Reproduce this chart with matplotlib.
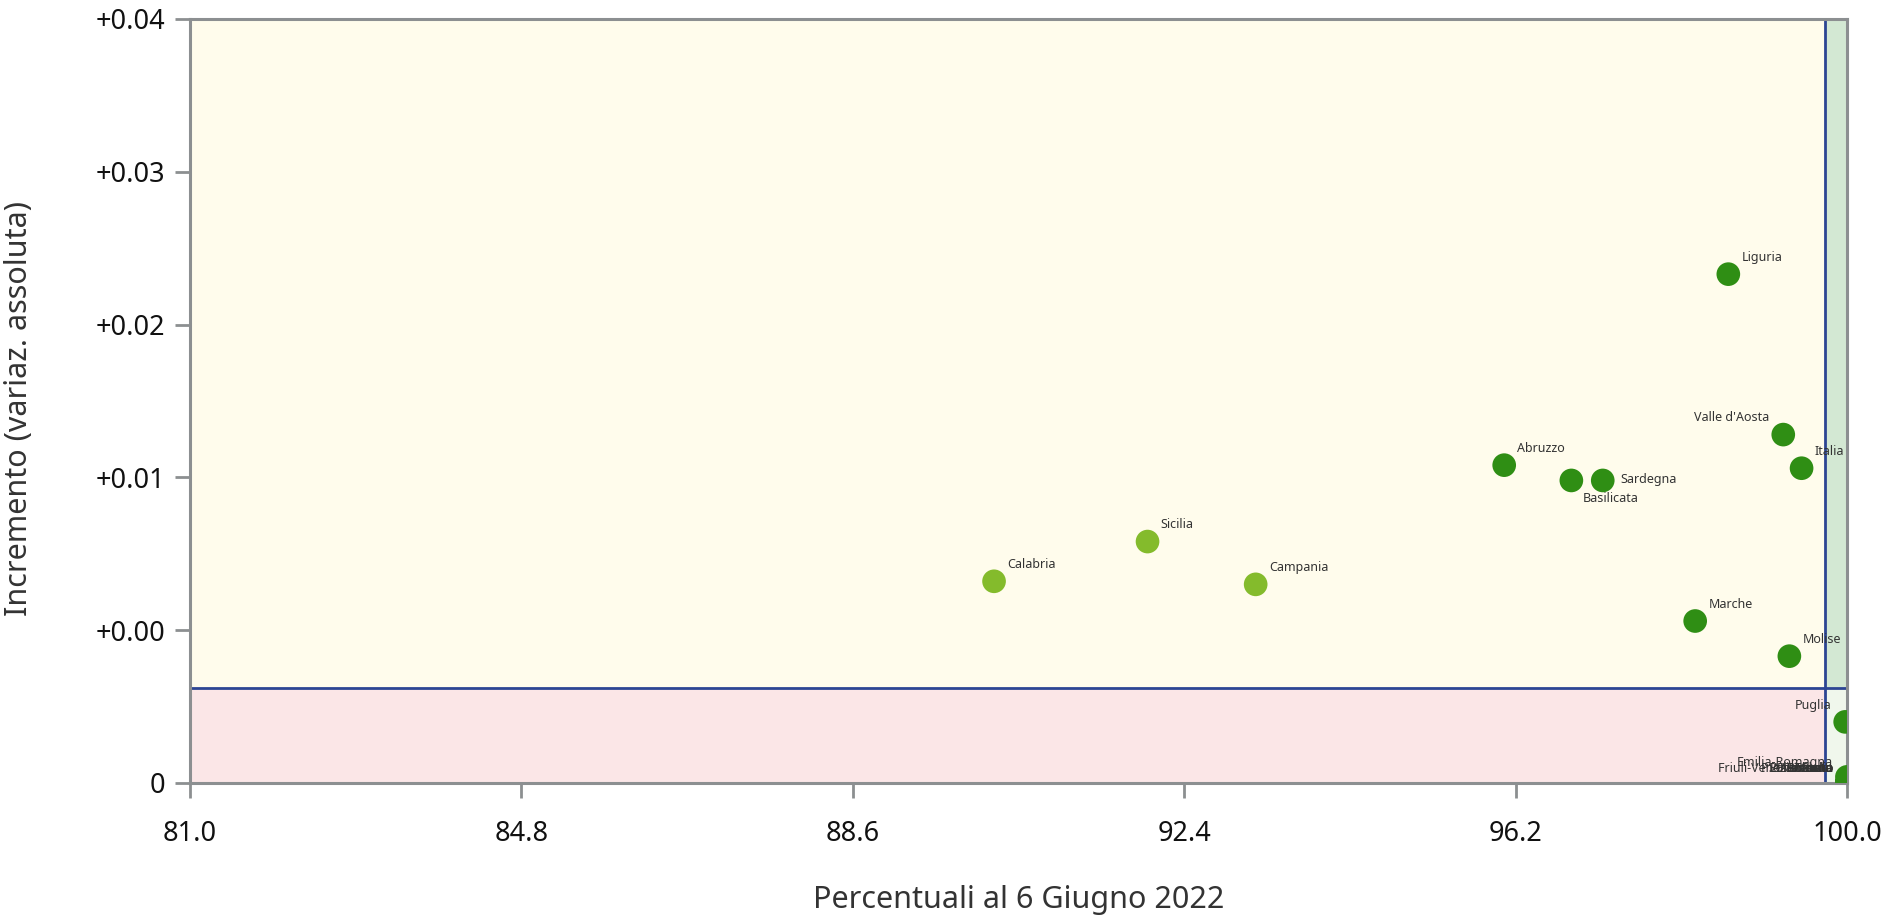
import matplotlib
matplotlib.use("Agg")
import matplotlib.pyplot as plt
from matplotlib.patches import Rectangle

plt.rcParams['font.family'] = ['Noto Sans', 'DejaVu Sans']

# ---- data ----
regions = ["Liguria", "Valle d'Aosta", "Italia", "Abruzzo", "Basilicata", "Sardegna",
           "Sicilia", "Calabria", "Campania", "Marche", "Molise", "Puglia",
           "Friuli-Venezia Giulia", "Emilia-Romagna", "Lazio", "Lombardia", "Piemonte",
           "Toscana", "Umbria", "Veneto", "P.A. Trento", "P.A. Bolzano"]
pct = [98.64, 99.27, 99.48, 96.07, 96.84, 97.20,
       91.98, 90.22, 93.22, 98.26, 99.34, 99.98,
       100.0, 100.0, 100.0, 100.0, 100.0,
       100.0, 100.0, 100.0, 100.0, 100.0]
incr = [0.0233, 0.0128, 0.0106, 0.0108, 0.0098, 0.0098,
        0.0058, 0.0032, 0.0030, 0.0006, -0.0017, -0.0060,
        -0.0100, -0.0096, -0.0100, -0.0100, -0.0100,
        -0.0100, -0.0100, -0.0100, -0.0100, -0.0100]
light = ["Sicilia", "Calabria", "Campania"]
label_pos = {"Valle d'Aosta": "ul", "Puglia": "ul", "Sardegna": "r", "Basilicata": "br",
             "Friuli-Venezia Giulia": "l", "Emilia-Romagna": "l", "Lazio": "l",
             "Lombardia": "l", "Piemonte": "l", "Toscana": "l", "Umbria": "l",
             "Veneto": "l", "P.A. Trento": "l", "P.A. Bolzano": "l"}

x_ticks = [81.0, 84.8, 88.6, 92.4, 96.2, 100.0]
y_ticks = [-0.01, 0.0, 0.01, 0.02, 0.03, 0.04]
y_labels = ["0", "+0.00", "+0.01", "+0.02", "+0.03", "+0.04"]
x_thr = 99.748
y_thr = -0.0038

# ---- figure ----
fig = plt.figure(figsize=(18.85, 9.16), dpi=100)
ax = fig.add_axes([0.1008, 0.1452, 0.8790, 0.8341])
xmin, xmax = 81.0, 100.0
ymin, ymax = -0.01, 0.04
ax.set_xlim(xmin, xmax)
ax.set_ylim(ymin, ymax)

ax.add_patch(Rectangle((xmin, y_thr), x_thr - xmin, ymax - y_thr, color='#fffcec', zorder=0, lw=0))
ax.add_patch(Rectangle((x_thr, y_thr), xmax - x_thr, ymax - y_thr, color='#d3e8d3', zorder=0, lw=0))
ax.add_patch(Rectangle((xmin, ymin), x_thr - xmin, y_thr - ymin, color='#fbe6e7', zorder=0, lw=0))
ax.add_patch(Rectangle((x_thr, ymin), xmax - x_thr, y_thr - ymin, color='#f0f7ec', zorder=0, lw=0))
ax.axvline(x_thr, color='#2c4593', lw=2, zorder=1)
ax.axhline(y_thr, color='#2c4593', lw=2, zorder=1)

cols = ['#84bb2c' if r in light else '#2f8e14' for r in regions]
ax.scatter(pct, incr, s=290, c=cols, edgecolors='none', zorder=3, clip_on=True)

for r, xv, yv in zip(regions, pct, incr):
    pos = label_pos.get(r, "ur")
    if pos == "ur":
        off, ha, va = (9.5, 9.5), 'left', 'baseline'
    elif pos == "ul":
        off, ha, va = (-10, 9.5), 'right', 'baseline'
    elif pos == "r":
        off, ha, va = (13, 1), 'left', 'center'
    elif pos == "br":
        off, ha, va = (8.5, -8), 'left', 'top'
    else:
        off, ha, va = (-10, 8), 'right', 'baseline'
    ax.annotate(r, (xv, yv), xytext=off, textcoords='offset points', ha=ha, va=va,
                fontsize=9, color='#333333', zorder=4)

for s in ax.spines.values():
    s.set_color('#8c8f91')
    s.set_linewidth(2.2)

ax.set_xticks(x_ticks)
ax.set_xticklabels([f"{v:.1f}" for v in x_ticks])
ax.set_yticks(y_ticks)
ax.set_yticklabels(y_labels)
ax.tick_params(axis='both', direction='out', length=11, width=2, color='#8c8f91',
               labelsize=19.5, labelcolor='#111111')
ax.tick_params(axis='x', pad=16)
ax.tick_params(axis='y', pad=7)

ax.set_xlabel("Percentuali al 6 Giugno 2022", fontsize=22, color='#333333', labelpad=26)
ax.set_ylabel("Incremento (variaz. assoluta)", fontsize=22, color='#333333')
ax.yaxis.set_label_coords(-0.094, 0.49)

fig.savefig("out.png", dpi=100)
